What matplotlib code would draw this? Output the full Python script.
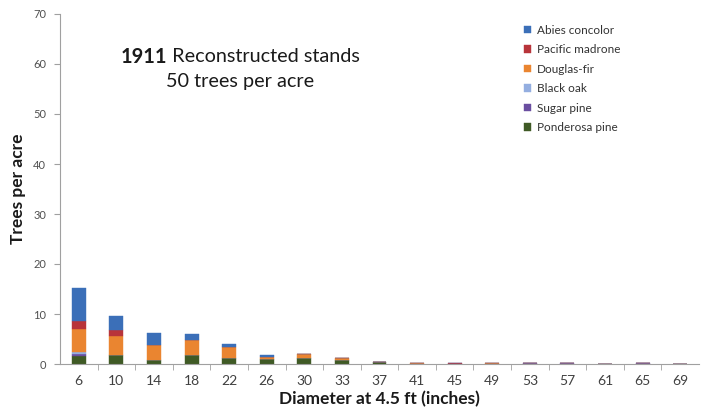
import matplotlib
matplotlib.use("Agg")
import matplotlib.pyplot as plt
import numpy as np

categories = ["6", "10", "14", "18", "22", "26", "30", "33", "37", "41",
              "45", "49", "53", "57", "61", "65", "69"]
ponderosa = [1.6, 1.8, 0.9, 1.9, 1.3, 1.0, 1.2, 0.9, 0.4, 0.0, 0.0, 0.0, 0.0, 0.0, 0.0, 0.0, 0.0]
sugar     = [0.4, 0.0, 0.0, 0.0, 0.0, 0.0, 0.0, 0.0, 0.0, 0.0, 0.1, 0.0, 0.15, 0.15, 0.0, 0.15, 0.0]
blackoak  = [0.4, 0.0, 0.0, 0.0, 0.0, 0.0, 0.0, 0.0, 0.0, 0.0, 0.0, 0.0, 0.0, 0.0, 0.0, 0.0, 0.0]
douglas   = [4.6, 3.8, 3.0, 2.9, 2.1, 0.5, 0.8, 0.4, 0.1, 0.3, 0.0, 0.3, 0.0, 0.0, 0.0, 0.0, 0.0]
madrone   = [1.7, 1.2, 0.0, 0.0, 0.0, 0.0, 0.0, 0.0, 0.0, 0.0, 0.2, 0.0, 0.0, 0.0, 0.0, 0.0, 0.0]
abies     = [6.5, 2.9, 2.4, 1.3, 0.7, 0.4, 0.0, 0.0, 0.0, 0.0, 0.0, 0.0, 0.0, 0.0, 0.0, 0.0, 0.0]

series = [
    ("Ponderosa pine", ponderosa, "#3f5a25"),
    ("Sugar pine", sugar, "#6a4ea0"),
    ("Black oak", blackoak, "#94aee0"),
    ("Douglas-fir", douglas, "#ea8530"),
    ("Pacific madrone", madrone, "#b8343a"),
    ("Abies concolor", abies, "#3b6fb8"),
]

plt.rcParams['font.family'] = ['Lato', 'DejaVu Sans']

fig = plt.figure(figsize=(7.01, 4.15), dpi=100)
ax = fig.add_axes([60/701, 51/415, 639/701, 350/415])

x = np.arange(len(categories))
bottom = np.zeros(len(categories))
handles = []
for name, vals, col in series:
    v = np.array(vals)
    b = ax.bar(x, v, width=0.37, bottom=bottom, color=col, label=name,
               edgecolor=col, linewidth=0.3)
    bottom += v
    handles.append(b)

ax.set_xlim(-0.5, len(categories) - 0.5)
ax.set_ylim(0, 70)
ax.set_yticks(np.arange(0, 71, 10))
ax.set_xticks(x)
ax.set_xticklabels(categories)
ax.set_xticks(np.arange(0.5, len(categories) - 0.5, 1), minor=True)
ax.tick_params(axis='x', which='major', length=0, pad=8, labelsize=10, labelcolor="#404040")
ax.tick_params(axis='x', which='minor', length=4, color="#a0a0a0", direction='out')
ax.tick_params(axis='y', length=4, color="#a0a0a0", labelsize=8, labelcolor="#505050", pad=6)

for s in ["top", "right"]:
    ax.spines[s].set_visible(False)
ax.spines["left"].set_color("#a0a0a0")
ax.spines["bottom"].set_color("#a0a0a0")

ax.set_ylabel("Trees per acre", fontsize=12.5, fontweight="bold", color="#1a1a1a", labelpad=5)
ax.set_xlabel("Diameter at 4.5 ft (inches)", fontsize=12.5, fontweight="bold", color="#1a1a1a", labelpad=3)

# Title: bold "1911" followed by regular text, centred as a whole
fig.canvas.draw()
renderer = fig.canvas.get_renderer()
t1 = ax.text(0, 0, "1911", fontsize=14.3, fontweight="bold", color="#1a1a1a",
             transform=ax.transAxes, ha="left", va="center")
t2 = ax.text(0, 0, " Reconstructed stands", fontsize=14.3, color="#1a1a1a",
             transform=ax.transAxes, ha="left", va="center")
w1 = t1.get_window_extent(renderer).width
w2 = t2.get_window_extent(renderer).width
cx_px = 240 - 60  # centre in axes pixels
ax_w = ax.get_window_extent(renderer).width
start = (cx_px - (w1 + w2) / 2) / ax_w
ycen = 0.878
t1.set_position((start, ycen))
t2.set_position((start + w1 / ax_w, ycen))
ax.text(cx_px / ax_w, 0.806, "50 trees per acre", transform=ax.transAxes,
        ha="center", va="center", fontsize=14.3, color="#1a1a1a")

leg = ax.legend(handles=handles[::-1], loc="upper left", bbox_to_anchor=(0.71, 1.0),
                frameon=False, fontsize=8.5, handlelength=0.6, handleheight=0.6,
                handletextpad=0.5, labelspacing=0.72)
for t in leg.get_texts():
    t.set_color("#333333")

fig.savefig("out.png", dpi=100)
